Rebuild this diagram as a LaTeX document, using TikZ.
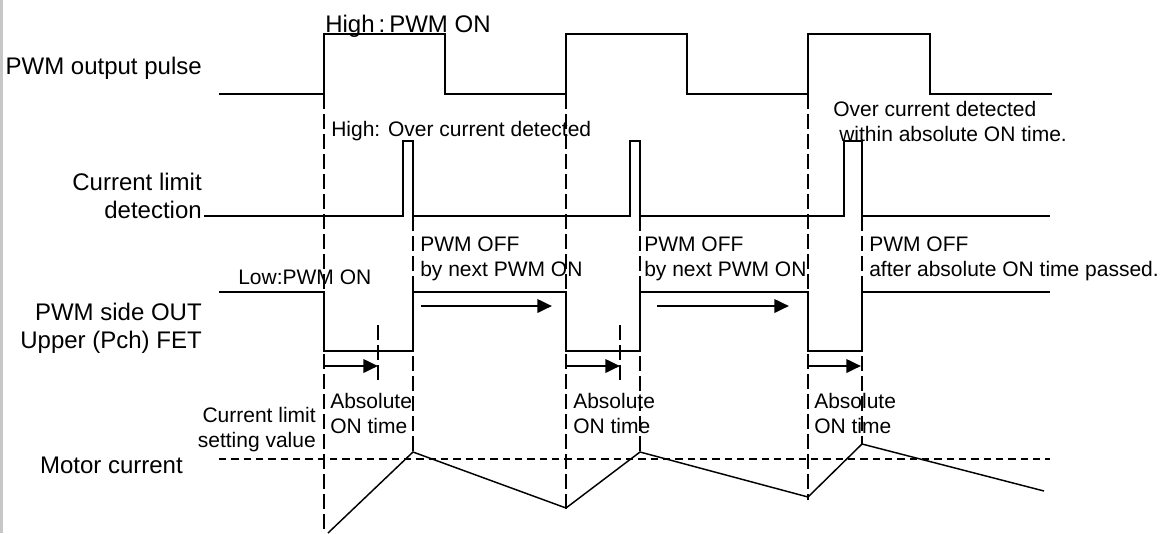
\documentclass[tikz,border=0pt]{standalone}
\usepackage{fontspec}
\setmainfont{Liberation Sans}
\usetikzlibrary{arrows.meta, positioning}

\begin{document}
\begin{tikzpicture}[x=0.75pt, y=-0.75pt,
  signal/.style={line width=1.1pt, line join=miter},
  guide/.style={line width=0.9pt, dash pattern=on 11pt off 4pt},
  level/.style={line width=0.9pt, dash pattern=on 5.5pt off 3.75pt},
  bigtext/.style={inner sep=0pt, align=right, font=\fontsize{18}{21}\selectfont},
  smalltext/.style={inner sep=0pt, align=left, font=\fontsize{15.75}{18.5}\selectfont},
  arrow/.style={line width=2pt, -{Triangle[length=11pt, width=10pt]}}]

  \useasboundingbox (0,0) rectangle (1167,533);
  \fill [black!22] (0,0) rectangle (2.5,533);

  % Nodes
  \node (pwmLabel) [bigtext, anchor=north east] at (202,57) {PWM output pulse};
  \node (detLabel) [bigtext, anchor=north east] at (202,173) {Current limit\\detection};
  \node (fetLabel) [bigtext, anchor=north east] at (202,303) {PWM side OUT\\Upper (Pch) FET};
  \node (motorLabel) [bigtext, anchor=north east] at (183,457) {Motor current};
  \node (highOn) [bigtext, anchor=north west] at (325,15) {High\,:\,PWM ON};

  \node (highOver) [smalltext, anchor=north west] at (331,121) {High: Over current detected};
  \node (overAbs) [smalltext, anchor=north west] at (833,101) {Over current detected\\\hspace{4.5pt}within absolute ON time.};
  \node (lowOn) [smalltext, anchor=north west] at (238,270) {Low:PWM ON};
  \node (offNext1) [smalltext, anchor=north west] at (420,237) {PWM OFF\\by next PWM ON};
  \node (offNext2) [smalltext, anchor=north west] at (644,237) {PWM OFF\\by next PWM ON};
  \node (offAfter) [smalltext, anchor=north west] at (869,237) {PWM OFF\\after absolute ON time passed.};
  \node (limitSet) [smalltext, align=right, anchor=north east] at (316,407) {Current limit\\setting value};
  \node (absOn1) [smalltext, anchor=north west] at (330,393) {Absolute\\ON time};
  \node (absOn2) [smalltext, anchor=north west] at (573,393) {Absolute\\ON time};
  \node (absOn3) [smalltext, anchor=north west] at (814,393) {Absolute\\ON time};

  % Waveforms
  \draw [signal] (219,94) -- (324,94) -- (324,34) -- (445,34) -- (445,94) -- (566,94) -- (566,34) -- (687,34)
    -- (687,94) -- (808,94) -- (808,34) -- (930,34) -- (930,94) -- (1052,94);
  \draw [signal] (204,216) -- (403,216) -- (403,141) -- (413,141) -- (413,216) -- (630,216) -- (630,141) -- (640,141)
    -- (640,216) -- (844,216) -- (844,141) -- (862,141) -- (862,216) -- (1050,216);
  \draw [signal] (219,292) -- (324,292) -- (324,351) -- (413,351) -- (413,292) -- (566,292) -- (566,351) -- (640,351)
    -- (640,292) -- (808,292) -- (808,351) -- (862,351) -- (862,292) -- (1050,292);
  \draw [signal] (328,533) -- (413,452) -- (566,508) -- (640,452) -- (808,497) -- (862,444) -- (1044,491);

  % Guides
  \draw [level] (219,459) -- (1050,459);
  \draw [guide] (324,94) -- (324,533);
  \draw [guide] (566,94) -- (566,512);
  \draw [guide] (808,94) -- (808,500);
  \draw [guide] (413,216) -- (413,452);
  \draw [guide] (640,216) -- (640,452);
  \draw [guide] (862,216) -- (862,444);
  \draw [guide] (378,325) -- (378,383);
  \draw [guide] (620,325) -- (620,383);

  % Arrows
  \coordinate (abs1Start) at (324,366);
  \coordinate (abs1End) at (378,366);
  \coordinate (abs2Start) at (566,366);
  \coordinate (abs2End) at (620,366);
  \coordinate (abs3Start) at (808,366);
  \coordinate (abs3End) at (861,366);
  \coordinate (off1Start) at (421,306);
  \coordinate (off1End) at (552,306);
  \coordinate (off2Start) at (657,306);
  \coordinate (off2End) at (789,306);

  \draw [arrow] (abs1Start) -- (abs1End);
  \draw [arrow] (abs2Start) -- (abs2End);
  \draw [arrow] (abs3Start) -- (abs3End);
  \draw [arrow] (off1Start) -- (off1End);
  \draw [arrow] (off2Start) -- (off2End);
\end{tikzpicture}
\end{document}
